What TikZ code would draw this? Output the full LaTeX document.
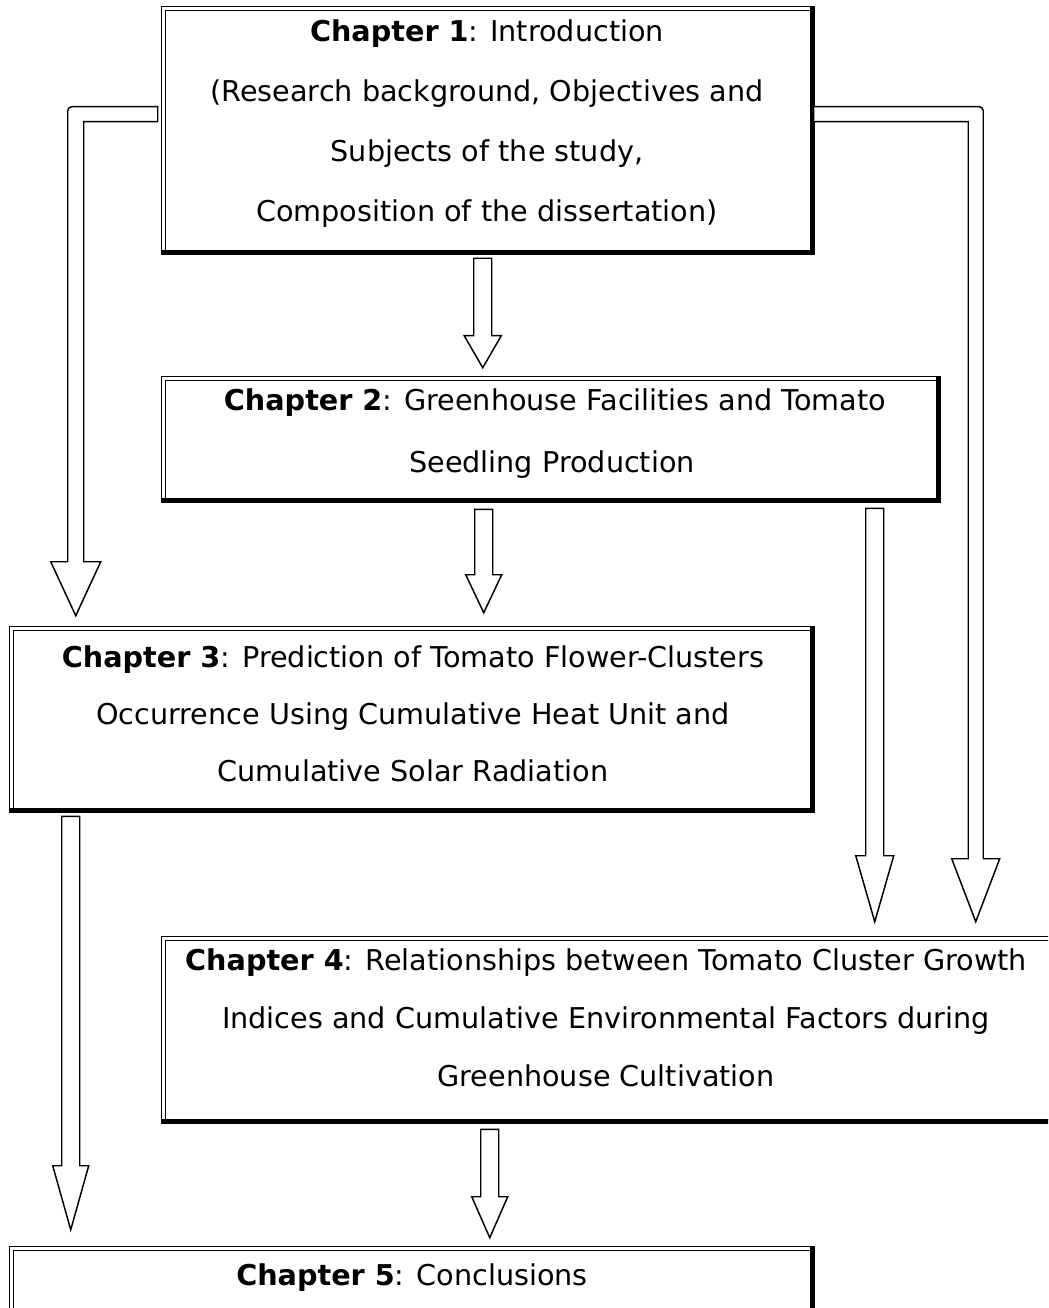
\documentclass[tikz,border=0pt]{standalone}
\usepackage{fontspec}
\setmainfont{DejaVu Sans}
\usetikzlibrary{calc,fit}
\newcommand\chapframe[1]{%
  \draw[thinframe] (#1.north west) rectangle (#1.south east);
  \draw[thinframe] ($(#1.north west)+(3.5,3.5)$) rectangle ($(#1.south east)+(-3.5,-3.5)$);
  \draw[thickframe] ($(#1.north east)+(-2,0)$) -- ($(#1.south east)+(-2,-2)$) -- ($(#1.south west)+(0,-2)$);}
\newcommand\hdown[5]{%
  \draw[harrow] ($(#1)+(-#3,0)$) -- ($(#2)+(-#3,-#5)$) -- ($(#2)+(-#4,-#5)$) -- (#2)
    -- ($(#2)+(#4,-#5)$) -- ($(#2)+(#3,-#5)$) -- ($(#1)+(#3,0)$) -- cycle;}
\begin{document}
\begin{tikzpicture}[x=0.75pt,y=-0.75pt,
  thinframe/.style={line width=1pt},
  thickframe/.style={line width=3pt},
  harrow/.style={draw, fill=white, line width=1.1pt, line join=miter},
  chapbox/.style={inner sep=0pt, draw=none},
  lbl/.style={font=\fontsize{21.5}{26}\selectfont, inner sep=0pt, anchor=base}]
\useasboundingbox (0,0) rectangle (1048,1308);
\clip (0,0) rectangle (1048,1308);

% boxes
\node[chapbox, fit={(162,7) (814,254)}] (b1) {};
\node[chapbox, fit={(162,377) (940,502)}] (b2) {};
\node[chapbox, fit={(10,627) (814,812)}] (b3) {};
\node[chapbox, fit={(162,937) (1054,1123)}] (b4) {};
\node[chapbox, fit={(10,1247) (814,1340)}] (b5) {};
\chapframe{b1}
\chapframe{b2}
\chapframe{b3}
\chapframe{b4}
\chapframe{b5}

% texts
\node[lbl] (t1a) at (487,42) {\textbf{Chapter 1}: Introduction};
\node[lbl] (t1b) at (487,102) {(Research background, Objectives and};
\node[lbl] (t1c) at (487,162) {Subjects of the study,};
\node[lbl] (t1d) at (487,222) {Composition of the dissertation)};
\node[lbl] (t2a) at (555,410) {\textbf{Chapter 2}: Greenhouse Facilities and Tomato};
\node[lbl] (t2b) at (552,472) {Seedling Production};
\node[lbl] (t3a) at (413,667) {\textbf{Chapter 3}: Prediction of Tomato Flower-Clusters};
\node[lbl] (t3b) at (413,724) {Occurrence Using Cumulative Heat Unit and};
\node[lbl] (t3c) at (413,781) {Cumulative Solar Radiation};
\node[lbl] (t4a) at (606,970) {\textbf{Chapter 4}: Relationships between Tomato Cluster Growth};
\node[lbl] (t4b) at (606,1028) {Indices and Cumulative Environmental Factors during};
\node[lbl] (t4c) at (606,1086) {Greenhouse Cultivation};
\node[lbl] (t5a) at (412,1285) {\textbf{Chapter 5}: Conclusions};

% straight arrows
\coordinate (a12s) at ($(b1.south west)+(321,4)$);
\coordinate (a12t) at ($(b2.north west)+(321,-9)$);
\hdown{a12s}{a12t}{9}{18.5}{32}
\coordinate (a23s) at ($(b2.south west)+(322,7)$);
\coordinate (a23t) at ($(b3.north west)+(474,-14)$);
\hdown{a23s}{a23t}{9}{18}{38}
\coordinate (a24s) at ($(b2.south west)+(713,6)$);
\coordinate (a24t) at ($(b4.north west)+(713,-15)$);
\hdown{a24s}{a24t}{9}{19}{66}
\coordinate (a35s) at ($(b3.south west)+(61,4)$);
\coordinate (a35t) at ($(b5.north west)+(61,-17)$);
\hdown{a35s}{a35t}{9}{18}{64}
\coordinate (a45s) at ($(b4.south west)+(328,6)$);
\coordinate (a45t) at ($(b5.north west)+(480,-9)$);
\hdown{a45s}{a45t}{9}{18}{41}

% bent arrow left: chapter 1 -> chapter 3
\coordinate (lA) at ($(b1.north west)+(-4,100)$);
\coordinate (lB) at ($(b1.north west)+(-4,115)$);
\coordinate (lT) at ($(b3.north west)+(66,-11)$);
\draw[harrow] (lA) [rounded corners=3pt] -- ($(lT |- lA)+(-8,0)$) -- ($(lT |- lA)+(-8,150)$)
  [sharp corners] -- ($(lT)+(-8,-54)$) -- ($(lT)+(-25,-54)$) -- (lT) -- ($(lT)+(25,-54)$)
  -- ($(lT)+(8,-54)$) -- ($(lT |- lB)+(8,0)$) -- (lB) -- cycle;

% bent arrow right: chapter 1 -> chapter 4
\coordinate (rA) at ($(b1.north east)+(0,100)$);
\coordinate (rB) at ($(b1.north east)+(0,115)$);
\coordinate (rT) at ($(b4.north west)+(814,-15)$);
\draw[harrow] (rA) [rounded corners=3pt] -- ($(rT |- rA)+(7.5,0)$) -- ($(rT |- rA)+(7.5,150)$)
  [sharp corners] -- ($(rT)+(7.5,-63)$) -- ($(rT)+(24,-63)$) -- (rT) -- ($(rT)+(-24,-63)$)
  -- ($(rT)+(-7.5,-63)$) -- ($(rT |- rB)+(-7.5,0)$) -- (rB);
\end{tikzpicture}
\end{document}
